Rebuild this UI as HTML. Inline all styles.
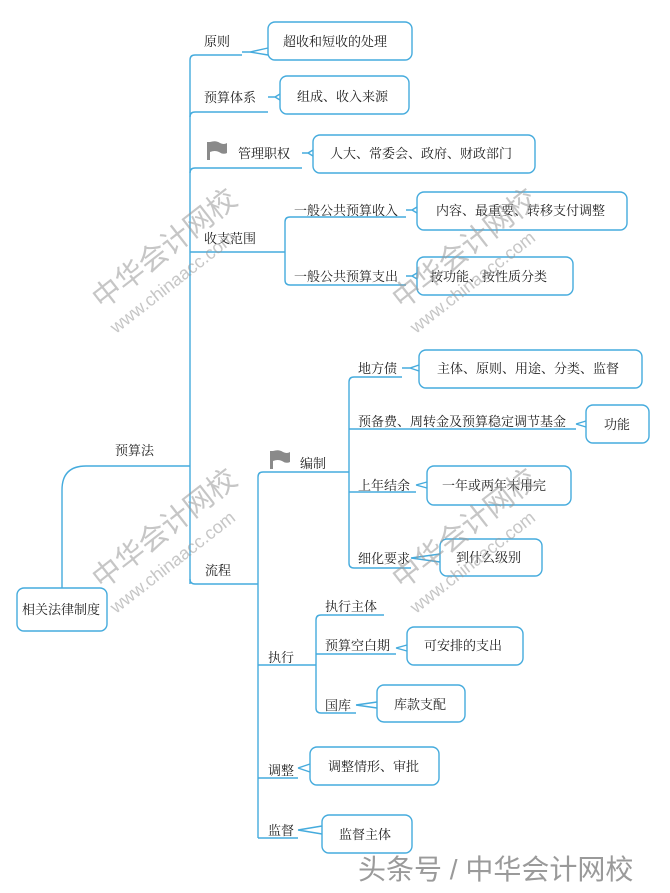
<!DOCTYPE html>
<html><head><meta charset="utf-8"><style>
html,body{margin:0;padding:0;background:#fff;}
svg{display:block;}
text{font-family:"Liberation Serif","Noto Serif CJK SC","Noto Sans CJK SC",serif;font-size:13px;fill:#222;}
.wm{font-family:"Liberation Sans","Noto Sans CJK SC",sans-serif;fill:#9a9a9a;opacity:0.75;}
</style></head><body>
<svg width="670" height="893" viewBox="0 0 670 893" xmlns="http://www.w3.org/2000/svg">
<g fill="none" stroke="#45abdd" stroke-width="1.4">
<path d="M62 588 V490 Q62 466 86 466 H190"/>
<rect x="17" y="588" width="90" height="43" rx="7"/>
<path d="M190 584 V60 Q190 55 195 55 H242"/>
<path d="M190 117 Q190 112 195 112 H268"/>
<path d="M190 173 Q190 168 195 168 H302"/>
<path d="M190 252 H285"/>
<path d="M190 579 Q190 584 195 584 H258"/>
<path d="M242 52 H250 L268 48 M250 52 L268 55"/>
<rect x="268" y="22" width="144" height="38" rx="7"/>
<path d="M268 97 H275 L280 94 M275 97 L280 100"/>
<rect x="280" y="76" width="129" height="38" rx="7"/>
<path d="M302 153 H308 L313 150 M308 153 L313 156"/>
<rect x="313" y="135" width="222" height="38" rx="7"/>
<path d="M406 217 H290 Q285 217 285 222 V280 Q285 285 290 285 H406"/>
<path d="M406 210 H412 L417 207 M412 210 L417 213"/>
<path d="M406 276 H412 L417 273 M412 276 L417 279"/>
<rect x="417" y="192" width="210" height="38" rx="7"/>
<rect x="417" y="257" width="156" height="38" rx="7"/>
<path d="M258 838 V477 Q258 472 263 472 H349"/>
<path d="M402 377 H354 Q349 377 349 382 V563 Q349 568 354 568 H411"/>
<path d="M349 429 H576"/>
<path d="M349 492 H416"/>
<path d="M402 368 H410 L419 365 M410 368 L419 371"/>
<rect x="419" y="350" width="223" height="38" rx="7"/>
<path d="M576 424 L586 421 M576 424 L586 427"/>
<rect x="586" y="405" width="63" height="38" rx="7"/>
<path d="M416 485 L427 482 M416 485 L427 488"/>
<rect x="427" y="466" width="144" height="39" rx="7"/>
<path d="M411 558 L440 554 M411 558 L440 562"/>
<rect x="440" y="539" width="102" height="37" rx="7"/>
<path d="M258 665 H316"/>
<path d="M384 615 H321 Q316 615 316 620 V708 Q316 713 321 713 H356"/>
<path d="M316 654 H396"/>
<path d="M396 648 L407 645 M396 648 L407 651"/>
<rect x="407" y="627" width="116" height="38" rx="7"/>
<path d="M356 705 L377 702 M356 705 L377 708"/>
<rect x="377" y="685" width="88" height="37" rx="7"/>
<path d="M258 778 H298"/>
<path d="M298 768 L310 764 M298 768 L310 772"/>
<rect x="310" y="747" width="129" height="38" rx="7"/>
<path d="M258 838 H298"/>
<path d="M298 830 L322 826 M298 830 L322 834"/>
<rect x="322" y="815" width="90" height="38" rx="7"/>
</g>
<g fill="#8a8a8a">
<rect x="207" y="142" width="3" height="18"/>
<path d="M210 142 Q216 140 220 143 Q224 145 227 143 V153 Q223 155 219 152 Q215 150 210 152 Z"/>
<rect x="270" y="451" width="3" height="18"/>
<path d="M273 451 Q279 449 283 452 Q287 454 290 452 V462 Q286 464 282 461 Q278 459 273 461 Z"/>
</g>
<text x="204" y="46">原则</text>
<text x="283" y="46">超收和短收的处理</text>
<text x="204" y="102">预算体系</text>
<text x="297" y="101">组成、收入来源</text>
<text x="238" y="158">管理职权</text>
<text x="330" y="158">人大、常委会、政府、财政部门</text>
<text x="204" y="243">收支范围</text>
<text x="294" y="215">一般公共预算收入</text>
<text x="436" y="215">内容、最重要、转移支付调整</text>
<text x="294" y="281">一般公共预算支出</text>
<text x="430" y="281">按功能、按性质分类</text>
<text x="115" y="455">预算法</text>
<text x="300" y="468">编制</text>
<text x="358" y="373">地方债</text>
<text x="437" y="373">主体、原则、用途、分类、监督</text>
<text x="358" y="426">预备费、周转金及预算稳定调节基金</text>
<text x="604" y="429">功能</text>
<text x="358" y="490">上年结余</text>
<text x="442" y="490">一年或两年未用完</text>
<text x="358" y="563">细化要求</text>
<text x="456" y="562">到什么级别</text>
<text x="205" y="575">流程</text>
<text x="22" y="614">相关法律制度</text>
<text x="268" y="662">执行</text>
<text x="325" y="611">执行主体</text>
<text x="325" y="650">预算空白期</text>
<text x="424" y="650">可安排的支出</text>
<text x="325" y="710">国库</text>
<text x="394" y="709">库款支配</text>
<text x="268" y="775">调整</text>
<text x="328" y="771">调整情形、审批</text>
<text x="268" y="835">监督</text>
<text x="339" y="839">监督主体</text>
<g class="wm">
<text transform="translate(102,310) rotate(-38)" style="font-size:29px" class="wm">中华会计网校</text>
<text transform="translate(116,334) rotate(-38)" style="font-size:18px" class="wm">www.chinaacc.com</text>
<text transform="translate(402,310) rotate(-38)" style="font-size:29px" class="wm">中华会计网校</text>
<text transform="translate(416,334) rotate(-38)" style="font-size:18px" class="wm">www.chinaacc.com</text>
<text transform="translate(102,590) rotate(-38)" style="font-size:29px" class="wm">中华会计网校</text>
<text transform="translate(116,614) rotate(-38)" style="font-size:18px" class="wm">www.chinaacc.com</text>
<text transform="translate(402,590) rotate(-38)" style="font-size:29px" class="wm">中华会计网校</text>
<text transform="translate(416,614) rotate(-38)" style="font-size:18px" class="wm">www.chinaacc.com</text>
</g>
<text x="358" y="879" style="font-family:'Liberation Sans','Noto Sans CJK SC',sans-serif;font-size:28px;fill:#9a9a9a">头条号 / 中华会计网校</text>
</svg>
</body></html>
